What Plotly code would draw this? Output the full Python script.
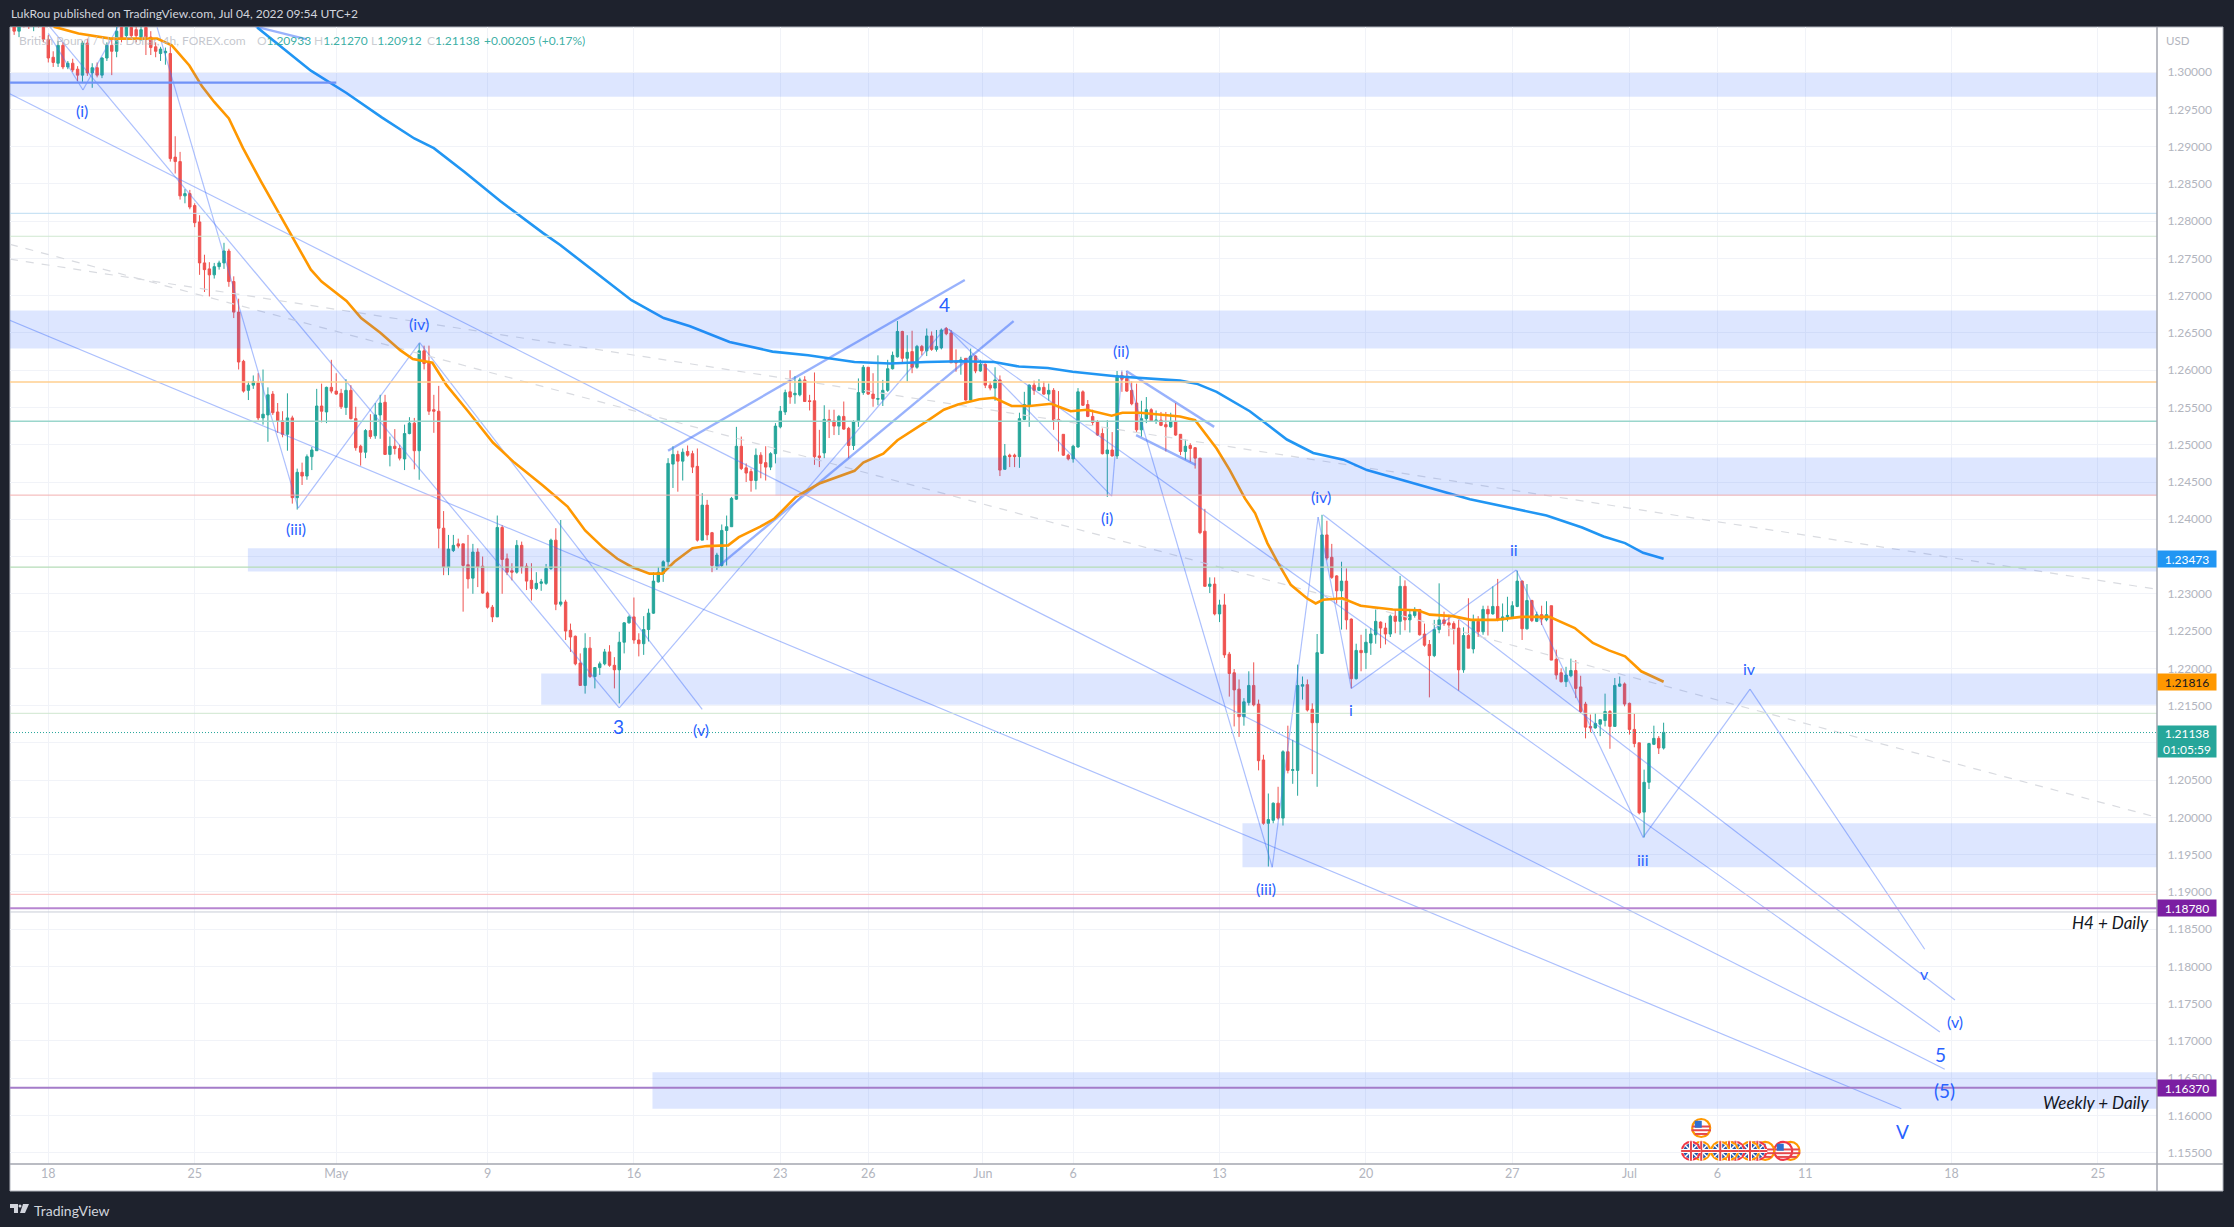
import plotly.graph_objects as go

# ---------- candles (4h bars, prices in pips: 12345 = 1.2345), first bar index -7 ----------
FIRST_BAR = -7
open_pips = [
13075,13055,13068,13065,13062,13068,13060,13044,13020,13012,
13036,13007,13012,13004,12996,13039,12999,13006,12996,13019,
13036,13028,13060,13049,13060,13057,13047,13060,13047,13034,
13025,13026,13025,12886,12880,12834,12837,12821,12799,12744,
12736,12728,12739,12744,12760,12719,12678,12612,12573,12580,
12583,12536,12540,12568,12544,12532,12514,12536,12429,12463,
12458,12484,12492,12552,12544,12577,12572,12569,12550,12573,
12535,12498,12490,12519,12512,12540,12557,12487,12498,12495,
12481,12515,12529,12492,12626,12611,12547,12545,12388,12336,
12358,12367,12367,12339,12321,12356,12337,12301,12282,12269,
12389,12347,12331,12329,12365,12337,12318,12307,12314,12314,
12334,12372,12286,12289,12251,12243,12207,12177,12227,12189,
12201,12206,12222,12204,12198,12235,12261,12269,12238,12233,
12252,12274,12316,12327,12343,12474,12487,12478,12491,12488,
12471,12372,12419,12382,12337,12338,12385,12390,12427,12498,
12469,12464,12452,12486,12476,12470,12488,12524,12544,12571,
12567,12567,12587,12559,12559,12485,12489,12534,12532,12525,
12538,12522,12499,12531,12570,12604,12568,12561,12561,12573,
12602,12618,12652,12616,12625,12604,12632,12626,12646,12628,
12630,12656,12650,12611,12611,12616,12560,12619,12599,12608,
12580,12576,12587,12467,12486,12486,12484,12534,12553,12580,
12573,12577,12568,12573,12534,12514,12486,12481,12497,12571,
12554,12538,12531,12515,12488,12493,12485,12593,12589,12573,
12556,12520,12535,12547,12532,12533,12527,12524,12531,12514,
12491,12499,12496,12482,12384,12310,12313,12273,12285,12219,
12194,12172,12135,12154,12177,12152,12077,11992,11996,12019,
11999,12088,12063,12063,12176,12178,12145,12127,12220,12379,
12349,12324,12304,12317,12266,12186,12224,12221,12234,12245,
12262,12254,12246,12270,12263,12310,12265,12271,12279,12246,
12232,12217,12252,12265,12261,12260,12254,12198,12244,12226,
12263,12249,12279,12273,12283,12265,12269,12269,12283,12317,
12253,12291,12263,12272,12265,12284,12212,12194,12182,12190,
12197,12175,12152,12122,12120,12125,12130,12142,12122,12176,
12179,12153,12118,12100,12007,12047,12098,12106,12093]
high_pips = [
13085,13075,13080,13080,13075,13080,13070,13050,13028,13042,
13040,13015,13018,13008,13042,13045,13012,13013,13020,13040,
13045,13075,13080,13075,13080,13070,13070,13075,13055,13040,
13034,13033,13035,12914,12893,12843,12842,12824,12808,12755,
12745,12744,12747,12771,12763,12726,12696,12614,12585,12593,
12596,12601,12577,12572,12556,12545,12569,12539,12468,12476,
12487,12497,12575,12582,12578,12614,12596,12575,12588,12580,
12551,12500,12521,12541,12556,12567,12567,12511,12521,12500,
12527,12537,12536,12636,12633,12633,12567,12579,12411,12379,
12379,12374,12367,12379,12367,12361,12350,12303,12285,12405,
12392,12354,12341,12372,12370,12341,12341,12329,12320,12340,
12374,12388,12399,12292,12260,12244,12220,12247,12242,12201,
12209,12226,12231,12215,12249,12262,12271,12295,12247,12270,
12280,12329,12336,12345,12482,12498,12492,12495,12499,12492,
12495,12435,12426,12383,12355,12393,12405,12430,12524,12511,
12475,12468,12495,12490,12498,12490,12529,12552,12574,12600,
12592,12590,12592,12567,12597,12520,12553,12547,12547,12540,
12558,12524,12533,12589,12607,12604,12596,12620,12587,12614,
12625,12666,12653,12647,12653,12634,12634,12656,12652,12654,
12656,12658,12654,12628,12618,12616,12629,12620,12614,12609,
12585,12604,12593,12501,12488,12488,12543,12571,12581,12586,
12588,12585,12582,12576,12572,12514,12488,12500,12576,12573,
12560,12547,12533,12522,12533,12517,12599,12598,12596,12585,
12582,12559,12564,12549,12546,12544,12544,12543,12556,12514,
12507,12502,12497,12482,12414,12322,12322,12292,12300,12222,
12199,12185,12160,12196,12208,12158,12084,12032,12020,12041,
12090,12123,12104,12205,12189,12185,12153,12246,12406,12398,
12367,12325,12343,12334,12267,12233,12245,12253,12254,12279,
12263,12261,12272,12279,12324,12318,12279,12282,12279,12260,
12238,12265,12314,12276,12272,12263,12265,12255,12294,12272,
12270,12284,12284,12310,12320,12287,12296,12290,12331,12318,
12313,12292,12276,12284,12290,12284,12225,12200,12202,12213,
12211,12190,12155,12138,12140,12131,12166,12144,12187,12189,
12181,12154,12139,12100,12064,12100,12123,12109,12127]
low_pips = [
13050,13047,13060,13058,13055,13060,13040,13013,13007,13007,
13004,13004,13000,12988,12987,12995,12979,12993,12992,13015,
12996,13020,13040,13044,13045,13040,13042,13023,13023,13020,
13015,13010,12880,12864,12829,12824,12816,12792,12728,12705,
12699,12723,12735,12736,12712,12670,12601,12570,12560,12575,
12533,12527,12504,12540,12516,12510,12492,12421,12413,12446,
12453,12466,12492,12530,12529,12569,12567,12548,12540,12534,
12492,12472,12482,12508,12508,12508,12487,12471,12487,12479,
12466,12514,12467,12453,12601,12540,12516,12361,12325,12325,
12356,12361,12276,12307,12300,12309,12300,12280,12262,12269,
12300,12325,12318,12327,12327,12305,12291,12305,12304,12312,
12332,12278,12283,12238,12222,12204,12177,12166,12187,12173,
12191,12204,12202,12173,12153,12220,12260,12233,12216,12218,
12236,12273,12315,12316,12336,12442,12437,12452,12484,12462,
12370,12372,12372,12329,12332,12336,12338,12390,12426,12466,
12450,12437,12440,12455,12452,12466,12475,12522,12540,12555,
12555,12565,12558,12546,12473,12470,12482,12509,12513,12513,
12520,12482,12493,12524,12567,12567,12551,12553,12552,12571,
12601,12617,12609,12585,12596,12602,12620,12619,12626,12625,
12628,12647,12610,12598,12594,12559,12560,12596,12598,12576,
12573,12559,12458,12467,12470,12470,12469,12533,12524,12567,
12572,12567,12559,12520,12491,12485,12479,12476,12496,12552,
12537,12526,12512,12487,12430,12484,12481,12571,12571,12553,
12517,12511,12529,12531,12528,12525,12491,12523,12512,12486,
12480,12477,12468,12380,12310,12301,12271,12262,12214,12162,
12122,12108,12123,12150,12149,12063,11990,11934,11992,11997,
11989,12059,12045,12029,12158,12142,12058,12041,12220,12345,
12320,12287,12252,12252,12173,12185,12196,12199,12218,12233,
12227,12232,12242,12247,12245,12251,12248,12268,12244,12229,
12161,12215,12247,12257,12243,12232,12170,12194,12227,12220,
12242,12245,12244,12272,12263,12249,12263,12268,12282,12238,
12252,12262,12262,12258,12263,12211,12185,12181,12175,12188,
12160,12140,12106,12114,12119,12109,12122,12092,12122,12175,
12149,12111,12094,12004,11973,12038,12097,12085,12091]
close_pips = [
13055,13068,13065,13062,13068,13062,13044,13019,13013,13036,
13007,13012,13003,12996,13039,12999,13006,12996,13019,13036,
13028,13055,13044,13060,13049,13049,13057,13047,13033,13028,
13031,13028,12884,12880,12834,12837,12819,12798,12744,12735,
12728,12739,12744,12760,12719,12678,12611,12572,12580,12585,
12536,12541,12567,12543,12532,12514,12536,12429,12463,12458,
12484,12493,12552,12545,12577,12572,12568,12551,12573,12535,
12496,12490,12519,12511,12540,12556,12487,12498,12495,12482,
12515,12529,12492,12626,12609,12545,12545,12388,12336,12360,
12365,12364,12338,12320,12356,12336,12301,12282,12269,12389,
12346,12329,12329,12365,12336,12317,12307,12314,12316,12334,
12372,12286,12289,12250,12242,12206,12177,12227,12189,12201,
12206,12222,12204,12198,12235,12261,12269,12238,12233,12252,
12274,12317,12329,12343,12475,12487,12478,12490,12486,12470,
12372,12419,12379,12338,12352,12385,12390,12428,12498,12468,
12462,12452,12486,12475,12470,12488,12525,12545,12570,12564,
12569,12587,12558,12558,12484,12483,12534,12531,12525,12538,
12521,12499,12531,12570,12604,12568,12562,12562,12573,12602,
12620,12652,12616,12624,12604,12632,12626,12646,12628,12632,
12654,12649,12610,12610,12614,12560,12619,12599,12608,12580,
12576,12587,12466,12485,12484,12484,12535,12554,12580,12573,
12577,12568,12573,12533,12533,12486,12481,12498,12571,12553,
12538,12530,12513,12488,12493,12485,12593,12588,12572,12555,
12520,12535,12547,12532,12533,12526,12524,12531,12513,12491,
12498,12495,12482,12382,12310,12313,12273,12285,12218,12193,
12171,12135,12155,12177,12151,12076,11992,11997,12019,11999,
12088,12063,12064,12177,12178,12144,12127,12221,12379,12348,
12322,12304,12317,12265,12186,12224,12221,12235,12246,12263,
12254,12246,12270,12263,12310,12265,12272,12279,12245,12231,
12217,12252,12265,12260,12258,12253,12198,12244,12227,12263,
12249,12279,12273,12283,12266,12269,12271,12284,12317,12253,
12291,12264,12272,12266,12272,12211,12191,12182,12191,12197,
12173,12142,12121,12120,12126,12131,12142,12122,12177,12179,
12152,12118,12099,12006,12047,12099,12106,12093,12114]

# ---------- moving averages ----------
ema_fast_bar = [1.1,6.2,12.8,22.3,25.3,28.9,31.5,34,37,39.9,43.6,48.7,50.9,53.8,56,61.1,64.1,68.1,72.1,74.7,78.7,81.6,86,91.1,95.5,101.4,
 106.4,110,113.7,116.6,119.6,123.2,125.8,128.3,132,134.9,139.3,141.5,145.9,148.8,153.2,158,165.2,167,171.1,174,179.9,183.5,186.4,190.8,193.8,
 197.4,201.1,205.5,209.5,212.8,217.9,220.1,223.8,231.9,235,239.4,242.1,245.2,247.3,249.8,252,254.6,257.9,259.7,261.2,265.2,268.9,275.5,280.6,283.1,287.8,291.5,296.6,301.8,307.6,312.8,316.5,319.8,323.1,326.4,331]
ema_fast_pips = [13061,13052,13045,13045,13036,13009,12981,12960,12938,12898,12853,12795,12768,12735,12719,12693,12670,12650,12627,12615,12610,12580,12545,12503,12476,12445,
 12417,12385,12362,12347,12336,12327,12327,12343,12361,12364,12365,12376,12390,12401,12430,12448,12465,12476,12488,12506,12531,12547,12554,12561,12563,
 12552,12552,12555,12545,12547,12539,12543,12543,12538,12533,12495,12466,12428,12408,12368,12341,12312,12294,12287,12292,12294,12284,12279,12278,12272,12270,12265,12265,12269,12269,12254,12234,12224,12216,12196,12182]
ema_slow_bar = [42.8,53.8,61.1,68.4,75,79,85.3,92.6,101.4,104.9,119.5,126.1,131.5,139.6,148.4,155.7,165.2,172.5,179.9,187.2,193.8,198.9,204.8,209.9,218.7,225.3,231.9,235.3,239.4,246.2,249,253.8,259.2,265.4,270.2,279.7,286.5,291.3,307,314.3,318.7,323.1,326.8,331]
ema_slow_pips = [13060,13002,12972,12939,12911,12898,12866,12827,12784,12768,12694,12670,12659,12638,12625,12620,12611,12609,12611,12612,12611,12605,12603,12598,12592,12589,12586,12582,12571,12545,12531,12507,12489,12480,12466,12448,12436,12427,12405,12389,12377,12368,12355,12347]

# ---------- drawn wave lines: start/end bar and price in pips ----------
wave_bar_a = [0,7.1,0.4,117,22.3,51.2,76.1,184.5,217.9,220.9,250.8,260.2,267,300.8,326.8,348.7,261.2,184.5,-7.9,-7.9]
wave_pip_a = [13052,12976,13060,12147,13060,12415,12637,12655,12431,12599,11933,12403,12173,12332,11973,12172,12406,12655,12971,12667]
wave_bar_b = [7.1,14.3,117,183.9,51.2,76.1,134,217.9,220,250.8,260.2,267,300.8,326.8,348.7,384.5,390.7,387.6,388.6,379.7]
wave_pip_b = [12976,13061,12147,12657,12415,12637,12145,12431,12600,11933,12403,12173,12332,11973,12172,11823,11755,11712,11662,11609]
# thick channel lines
chan_bar_a = [127,137,220.9,222.9,42.5]
chan_pip_a = [12492,12335,12599,12513,13061]
chan_bar_b = [187.8,197.8,238.9,235.1,53]
chan_pip_b = [12721,12666,12524,12473,13044]
# dashed long trend lines
dash_bar_a = [-7.85,-7.85]
dash_pip_a = [12749,12769]
dash_bar_b = [432.1,432.1]
dash_pip_b = [12306,12000]

# ---------- supply/demand zones ----------
zone_start = [None,None,40.9,101,149,244.7,123.8]
zone_top = [12999,12680,12361,12193,12483,11992,11658]
zone_bottom = [12967,12629,12330,12151,12432,11933,11609]

# ---------- horizontal levels ----------
level_prices = [1.28106,1.27798,1.25841,1.25316,1.24324,1.23359,1.21396,1.18967,1.1873,1.1878,1.1637]
level_colors = ['#bcdcf2','#cfe8d0','#ffcf8f','#9ad6cc','#f3b0b0','#b5dcb7','#cfe6cf','#f9bcbc','#c8ccd6','#b786d1','#a47cc9']
level_widths = [1,1,1.5,1.5,1,1.3,1,1,1,2,2]
upper_line_price = 1.2986
upper_line_end = 59
last_price = 1.21138

# ---------- labels ----------
wave_labels = ['(i)','(iii)','(iv)','3','(v)','4','(ii)','(i)','(iv)','(iii)','i','ii','iii','iv','v','(v)','5','(5)','V']
wave_label_bar = [7,50.8,75.9,116.8,133.7,183.7,219.9,217,260.7,249.6,266.9,300.4,326.7,348.6,384.5,390.7,387.7,388.6,379.9]
wave_label_pip = [12948,12388,12663,12122,12118,12688,12626,12403,12431,11904,12145,12359,11944,12200,11791,11726,11682,11634,11579]
wave_label_size = [16,16,16,19,16,19,16,16,16,16,16,16,16,16,16,16,19,19,19]

tick_bars = [0,30,59,90,120,150,168,191.5,210,240,270,300,324,342,360,390,420]
tick_text = ['18','25','May','9','16','23','26','Jun','6','13','20','27','Jul','6','11','18','25']
price_ticks = [1.155+0.005*i for i in range(30)]
# scale labels that the price tags cover are left blank
hidden_price_labels = ['1.21000','1.23500']

# economic event icons, painted right to left
event_bar = [357,355.5,351.8,350.2,348.7,345.7,344.4,342.6,338.7,336.6,338.7]
event_price = [1.15523]*10+[1.15831]
event_flag = ['US','US','US','UK','UK','UK','UK','UK','UK','UK','US']
event_ring = ['#ff9800','#f23645','#ff9800','#f23645','#ff9800','#f23645','#ff9800','#ff9800','#ff9800','#f23645','#ff9800']

# ---------- page geometry ----------
W, H = 2234, 1227
L, R, T, B = 10, 2157, 27, 1164
def px(x): return (x - L) / (R - L)
def py(y): return (B - y) / (B - T)

BG = '#1e222d'
WAVE = 'rgba(70,115,250,0.45)'
CHAN = 'rgba(70,115,250,0.55)'
BLUE_TXT = '#2962ff'
AX_TXT = '#b2b5be'
FONT = 'Lato'

bars = list(range(FIRST_BAR, FIRST_BAR + len(open_pips)))
P = lambda seq: [v / 10000 for v in seq]

fig = go.Figure()
fig.add_trace(go.Candlestick(
    x=bars, open=P(open_pips), high=P(high_pips), low=P(low_pips), close=P(close_pips),
    increasing=dict(line=dict(color='#26a69a', width=1), fillcolor='#26a69a'),
    decreasing=dict(line=dict(color='#ef5350', width=1), fillcolor='#ef5350'),
    whiskerwidth=0, showlegend=False, hoverinfo='skip'))

for xa, xb, ya, yb in zip(wave_bar_a, wave_bar_b, wave_pip_a, wave_pip_b):
    fig.add_trace(go.Scatter(x=[xa, xb], y=P([ya, yb]), mode='lines', line=dict(color=WAVE, width=1.2),
                             showlegend=False, hoverinfo='skip'))
for xa, xb, ya, yb in zip(chan_bar_a, chan_bar_b, chan_pip_a, chan_pip_b):
    fig.add_trace(go.Scatter(x=[xa, xb], y=P([ya, yb]), mode='lines', line=dict(color=CHAN, width=2.4),
                             showlegend=False, hoverinfo='skip'))
for xa, xb, ya, yb in zip(dash_bar_a, dash_bar_b, dash_pip_a, dash_pip_b):
    fig.add_trace(go.Scatter(x=[xa, xb], y=P([ya, yb]), mode='lines',
                             line=dict(color='#d9dbe0', width=1.2, dash='8px 8px'),
                             showlegend=False, hoverinfo='skip'))

fig.add_trace(go.Scatter(x=ema_slow_bar, y=P(ema_slow_pips), mode='lines', line=dict(color='#2196f3', width=2.6),
                         showlegend=False, hoverinfo='skip'))
fig.add_trace(go.Scatter(x=ema_fast_bar, y=P(ema_fast_pips), mode='lines', line=dict(color='#ff9800', width=2.6),
                         showlegend=False, hoverinfo='skip'))

# event icons
def mark(x, y, symbol, size, color, lw=0, lc=None):
    fig.add_trace(go.Scatter(x=[x], y=[y], mode='markers', showlegend=False, hoverinfo='skip',
                             marker=dict(symbol=symbol, size=size, color=color,
                                         line=dict(width=lw, color=lc or color))))
for bx, pr, fl, ring in zip(event_bar, event_price, event_flag, event_ring):
    mark(bx, pr, 'circle', 18, '#ffffff', 2.2, ring)
    if fl == 'UK':
        mark(bx, pr, 'circle', 15, '#2257a8')
        mark(bx, pr, 'x-thin', 12, '#ffffff', 1.5, '#ffffff')
        mark(bx, pr, 'cross-thin', 14, '#ffffff', 4, '#ffffff')
        mark(bx, pr, 'cross-thin', 14, '#e5484d', 2, '#e5484d')
    else:
        mark(bx, pr + 0.0002, 'line-ew', 13, '#e5484d', 2, '#e5484d')
        mark(bx, pr - 0.0003, 'line-ew', 14, '#e5484d', 2, '#e5484d')
        mark(bx, pr - 0.0008, 'line-ew', 9, '#e5484d', 2, '#e5484d')
        mark(bx - 0.6, pr + 0.0005, 'square', 7, '#2f6fd0')

shapes = [
    # white chart card with border, drawn under everything
    dict(type='rect', xref='paper', yref='paper', x0=0, x1=px(2223), y0=py(1191), y1=1,
         fillcolor='#ffffff', line=dict(color='#b2b5be', width=1), layer='below'),
]
for start, top, bottom in zip(zone_start, zone_top, zone_bottom):
    shapes.append(dict(type='rect', xref='x', yref='y', x0=start if start is not None else -7.85, x1=432.1,
                       y0=bottom / 10000, y1=top / 10000, fillcolor='rgba(41,98,255,0.16)',
                       line=dict(width=0), layer='above'))
for p, c, w in zip(level_prices, level_colors, level_widths):
    shapes.append(dict(type='line', xref='x', yref='y', x0=-7.85, x1=432.1, y0=p, y1=p,
                       line=dict(color=c, width=w), layer='above'))
shapes.append(dict(type='line', xref='x', yref='y', x0=-7.85, x1=upper_line_end, y0=upper_line_price, y1=upper_line_price,
                   line=dict(color='#6f92f7', width=2.2), layer='above'))
shapes.append(dict(type='line', xref='x', yref='y', x0=-7.85, x1=432.1, y0=last_price, y1=last_price,
                   line=dict(color='#26a69a', width=1, dash='1px 2px'), layer='above'))
# axis separators
shapes.append(dict(type='line', xref='paper', yref='paper', x0=1, x1=1, y0=py(1191), y1=1,
                   line=dict(color='#a3a6af', width=1.5), layer='above'))
shapes.append(dict(type='line', xref='paper', yref='paper', x0=0, x1=px(2223), y0=0, y1=0,
                   line=dict(color='#a3a6af', width=1.5), layer='above'))
# TradingView footer logo
LOGO = '#d1d4dc'
def poly(pts):
    return 'M ' + ' L '.join(f'{px(a):.5f},{py(b):.5f}' for a, b in pts) + ' Z'
for pts in ([(10, 1204), (18, 1204), (18, 1213), (14, 1213), (14, 1208), (10, 1208)],
            [(23, 1204), (29, 1204), (25, 1213), (20, 1213)]):
    shapes.append(dict(type='path', xref='paper', yref='paper', path=poly(pts), fillcolor=LOGO, line=dict(width=0)))
shapes.append(dict(type='circle', xref='paper', yref='paper', x0=px(18.5), x1=px(21.5), y0=py(1207.5), y1=py(1204.5),
                   fillcolor=LOGO, line=dict(width=0)))

ann = []
for t, bx, pp, sz in zip(wave_labels, wave_label_bar, wave_label_pip, wave_label_size):
    ann.append(dict(text=t, x=bx, y=pp / 10000, xref='x', yref='y', showarrow=False,
                    font=dict(family=FONT, size=sz, color=BLUE_TXT), xanchor='center', yanchor='middle'))

def page_text(text, x, y, size, color, anchor='left', family=FONT):
    ann.append(dict(text=text, x=px(x), y=py(y), xref='paper', yref='paper', showarrow=False,
                    font=dict(family=family, size=size, color=color), xanchor=anchor, yanchor='middle'))

page_text('LukRou published on TradingView.com, Jul 04, 2022 09:54 UTC+2', 9, 13, 12, '#d1d4dc')
page_text('TradingView', 32, 1210, 14, '#d1d4dc')
LEG = 'rgba(178,181,190,0.75)'
TEAL = 'rgba(38,166,154,0.9)'
page_text('British Pound / U.S. Dollar, 4h, FOREX.com', 17, 41, 12, LEG)
for head, val, x in [('O', '1.20933', 255), ('H', '1.21270', 312), ('L', '1.20912', 369), ('C', '1.21138', 425)]:
    page_text(f'<span style="color:{LEG}">{head}</span>{val}', x, 41, 12, TEAL)
page_text('+0.00205 (+0.17%)', 482, 41, 12, TEAL)
page_text('USD', 2164, 41, 11.5, AX_TXT)
page_text('<i>H4 + Daily</i>', 2151, 922, 17, '#131722', 'right')
page_text('<i>Weekly + Daily</i>', 2151, 1102, 17, '#131722', 'right')

# price tags on the scale
for text, price, bg, fg in [('1.23473', 1.23473, '#2196f3', '#ffffff'), ('1.21816', 1.21816, '#ff9800', '#131722'),
                            ('1.18780', 1.18780, '#7b1fa2', '#ffffff'), ('1.16370', 1.16370, '#7b1fa2', '#ffffff')]:
    ann.append(dict(text=text, x=1, y=price, xref='paper', yref='y', showarrow=False, xanchor='left', yanchor='middle',
                    width=58, height=16, bgcolor=bg, borderpad=0, align='center',
                    font=dict(family=FONT, size=12, color=fg)))
ann.append(dict(text='1.21138<br>01:05:59', x=1, y=last_price, xref='paper', yref='y', showarrow=False,
                xanchor='left', yanchor='top', yshift=8, width=58, height=31, bgcolor='#26a69a', borderpad=0,
                align='center', font=dict(family=FONT, size=12, color='#ffffff')))

price_tick_text = [f'{v:.5f}' for v in price_ticks]
price_tick_text = ['' if s in hidden_price_labels else s for s in price_tick_text]

fig.update_layout(
    width=W, height=H, margin=dict(l=L, r=W - R, t=T, b=H - B, pad=0),
    paper_bgcolor=BG, plot_bgcolor='rgba(0,0,0,0)', boxgap=0.3, showlegend=False, dragmode=False,
    shapes=shapes, annotations=ann,
    xaxis=dict(range=[-7.85, 432.1], tickmode='array', tickvals=tick_bars, ticktext=tick_text,
               rangeslider=dict(visible=False), showgrid=True, gridcolor='#f1f3f8', gridwidth=1,
               zeroline=False, showline=False, ticks='', tickfont=dict(family=FONT, size=12.5, color=AX_TXT)),
    yaxis=dict(range=[1.15348, 1.30606], side='right', tickmode='array', tickvals=price_ticks, ticktext=price_tick_text,
               showgrid=True, gridcolor='#f1f3f8', gridwidth=1, zeroline=False, showline=False,
               ticks='outside', ticklen=7, tickcolor='rgba(0,0,0,0)', tickfont=dict(family=FONT, size=12, color=AX_TXT)),
)

fig.write_html('out.html', config=dict(displayModeBar=False),
               post_script="document.body.style.margin='0';document.body.style.overflow='hidden';")
